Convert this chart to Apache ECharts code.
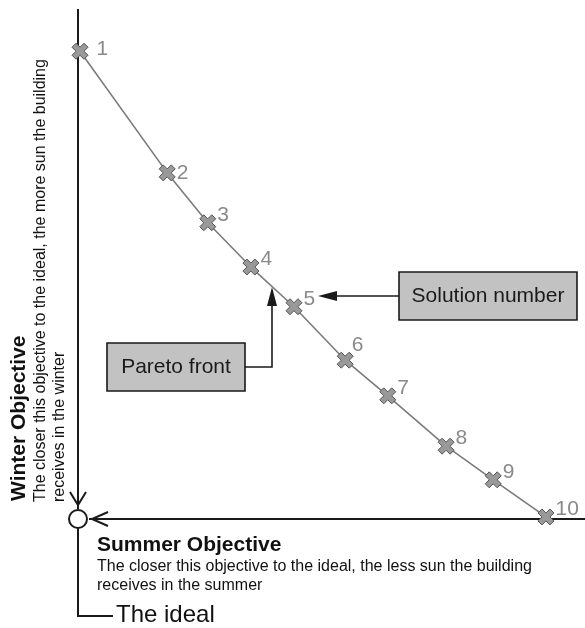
<!DOCTYPE html>
<html>
<head>
<meta charset="utf-8">
<script src="https://cdn.jsdelivr.net/npm/echarts@6/dist/echarts.min.js"></script>
<style>
html,body{margin:0;padding:0;background:#fff;}
#chart{width:585px;height:628px;}
</style>
</head>
<body>
<div id="chart"></div>
<script>
// Solution numbers along the Pareto front
const solutionLabels = ['1','2','3','4','5','6','7','8','9','10'];
// Summer objective (distance from the ideal, horizontal)
const summerValues = [0.4, 17.6, 25.6, 34.1, 42.6, 52.7, 61.1, 72.6, 81.9, 92.3];
// Winter objective (distance from the ideal, vertical)
const winterValues = [91.9, 68.0, 58.2, 49.5, 41.7, 31.2, 24.2, 14.3, 7.7, 0.4];

const FONT = 'Liberation Sans, Arial, Helvetica, sans-serif';
const chart = echarts.init(document.getElementById('chart'), null, {renderer:'canvas'});

const labelNudges = {0:[7,6], 1:[0,8], 5:[-3,-7]};
const seriesData = summerValues.map((x, i) => {
  const item = {value:[x, winterValues[i]], name: solutionLabels[i]};
  if (labelNudges[i]) {
    item.label = {offset:[labelNudges[i][0], -8 + labelNudges[i][1]]};
  }
  return item;
});

const XPATH = 'path://M0,2.5 L2.5,0 L5,2.5 L7.5,0 L10,2.5 L7.5,5 L10,7.5 L7.5,10 L5,7.5 L2.5,10 L0,7.5 L2.5,5 Z';
const dark = '#1a1a1a';

const option = {
  animation: false,
  backgroundColor: '#fff',
  grid: {left:78, top:10, width:507, height:509},
  xAxis: {type:'value', min:0, max:100, show:false},
  yAxis: {type:'value', min:0, max:100, show:false},
  series: [{
    type:'line',
    data: seriesData,
    symbol: XPATH,
    symbolSize: 16,
    lineStyle: {color:'#7b7b7b', width:1.6},
    itemStyle: {color:'#999', borderColor:'#555', borderWidth:1},
    label: {
      show:true, position:'right', distance:1, offset:[0,-8],
      formatter: p => p.name,
      color:'#8a8a8a', fontSize:21, fontFamily:FONT
    },
    z: 5
  }],
  graphic: [
    // vertical axis
    {type:'line', shape:{x1:78,y1:9,x2:78,y2:509}, style:{stroke:dark, lineWidth:2}},
    {type:'polyline', shape:{points:[[70,492],[78,505],[86,492]]}, style:{stroke:dark, lineWidth:2, fill:null}},
    // horizontal axis
    {type:'line', shape:{x1:89,y1:519,x2:585,y2:519}, style:{stroke:dark, lineWidth:2}},
    {type:'polyline', shape:{points:[[108,512],[92,519],[108,526]]}, style:{stroke:dark, lineWidth:2, fill:null}},
    // ideal circle
    {type:'circle', shape:{cx:78, cy:519, r:9}, style:{stroke:dark, lineWidth:2, fill:'#fff'}},
    // ideal leader
    {type:'polyline', shape:{points:[[78,528],[78,616],[113,616]]}, style:{stroke:dark, lineWidth:2, fill:null}},
    {type:'text', x:116, y:615, style:{text:'The ideal', font:'24px '+FONT, fill:'#111', textVerticalAlign:'middle'}},
    // summer text
    {type:'text', x:97, y:545, style:{text:'Summer Objective', font:'bold 21px '+FONT, fill:'#111', textVerticalAlign:'middle'}},
    {type:'text', x:97, y:567, style:{text:'The closer this objective to the ideal, the less sun the building', font:'16px '+FONT, fill:'#111', textVerticalAlign:'middle'}},
    {type:'text', x:97, y:586, style:{text:'receives in the summer', font:'16px '+FONT, fill:'#111', textVerticalAlign:'middle'}},
    // winter text (vertical)
    {type:'text', x:19, y:501, rotation:Math.PI/2, style:{text:'Winter Objective', font:'bold 21px '+FONT, fill:'#111', textVerticalAlign:'middle', textAlign:'left'}},
    {type:'text', x:41, y:502, rotation:Math.PI/2, style:{text:'The closer this objective to the ideal, the more sun the building', font:'16px '+FONT, fill:'#111', textVerticalAlign:'middle', textAlign:'left'}},
    {type:'text', x:60, y:502, rotation:Math.PI/2, style:{text:'receives in the winter', font:'16px '+FONT, fill:'#111', textVerticalAlign:'middle', textAlign:'left'}},
    // Solution number box + arrow
    {type:'rect', shape:{x:399, y:272, width:178, height:48}, style:{fill:'#c2c2c2', stroke:dark, lineWidth:1.6}},
    {type:'text', x:488, y:296, style:{text:'Solution number', font:'21px '+FONT, fill:dark, textAlign:'center', textVerticalAlign:'middle'}},
    {type:'line', shape:{x1:399,y1:296,x2:334,y2:296}, style:{stroke:dark, lineWidth:1.6}},
    {type:'polygon', shape:{points:[[318,296],[337,291],[337,301]]}, style:{fill:dark}},
    // Pareto front box + arrow
    {type:'rect', shape:{x:107, y:343, width:138, height:48}, style:{fill:'#c2c2c2', stroke:dark, lineWidth:1.6}},
    {type:'text', x:176, y:367, style:{text:'Pareto front', font:'21px '+FONT, fill:dark, textAlign:'center', textVerticalAlign:'middle'}},
    {type:'polyline', shape:{points:[[245,367],[272,367],[272,303]]}, style:{stroke:dark, lineWidth:1.6, fill:null}},
    {type:'polygon', shape:{points:[[272,287],[267,306],[277,306]]}, style:{fill:dark}}
  ]
};
chart.setOption(option);
</script>
</body>
</html>
